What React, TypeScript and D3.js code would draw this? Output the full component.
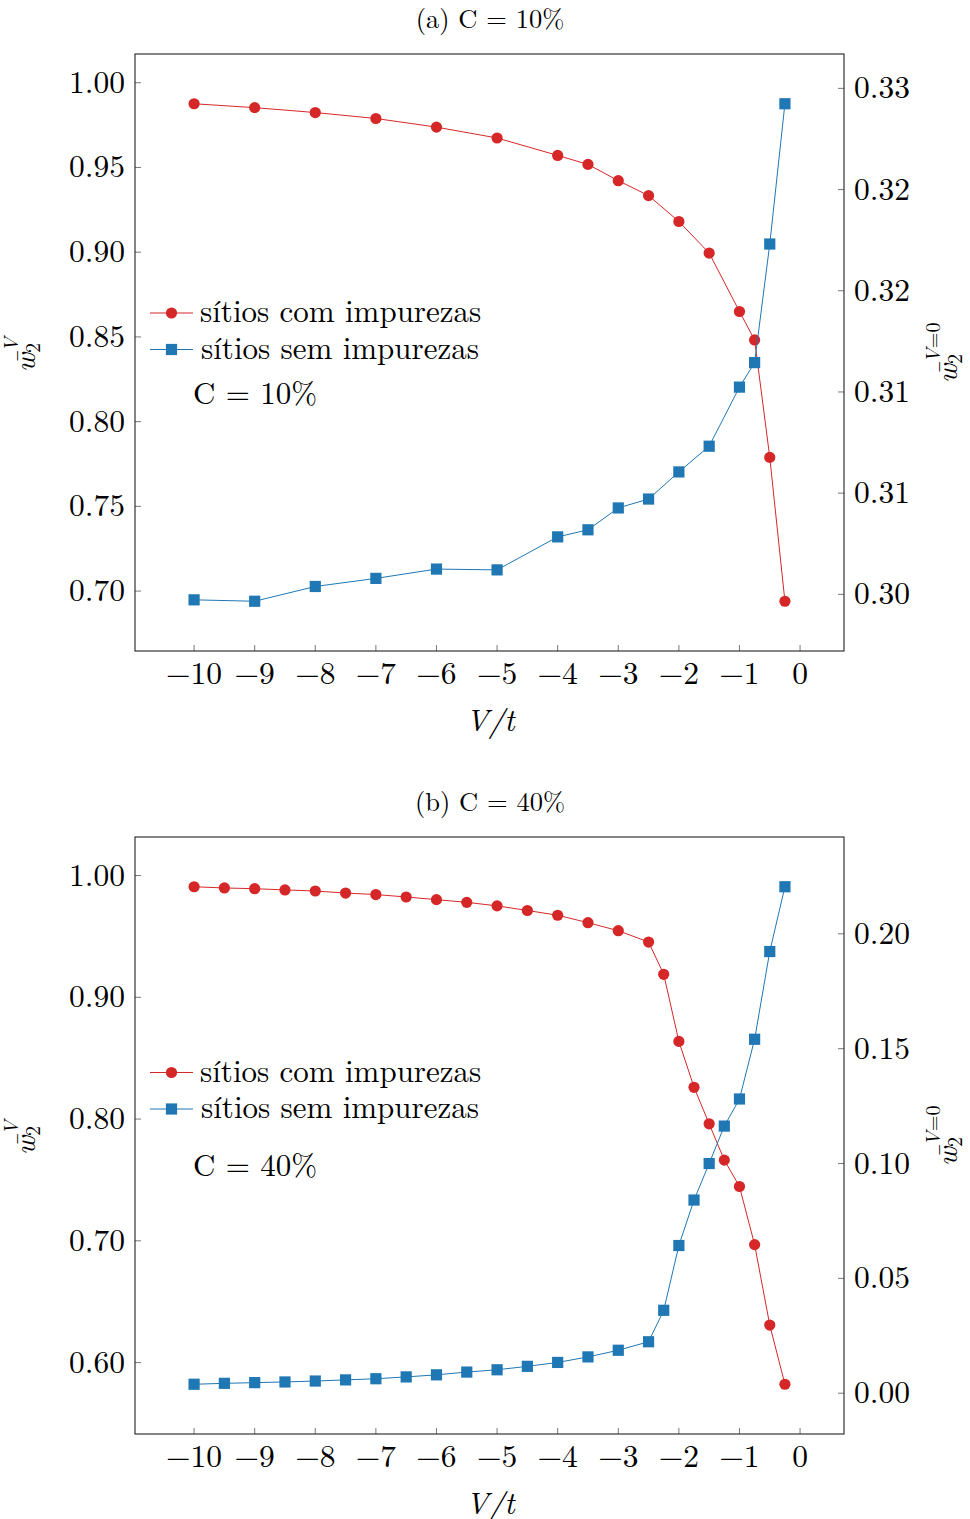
import React from 'react';
import * as d3 from 'd3';

// panel (a): C = 10%
const xA = [-10, -9, -8, -7, -6, -5, -4, -3.5, -3, -2.5, -2, -1.5, -1, -0.75, -0.5, -0.25];
const comA = [0.9876, 0.9853, 0.9824, 0.9789, 0.9738, 0.9674, 0.9571, 0.9518, 0.9422, 0.9334, 0.9181, 0.8995, 0.865, 0.8482, 0.7789, 0.694];
const semA = [0.29973, 0.29966, 0.30039, 0.30079, 0.30125, 0.30121, 0.30284, 0.30319, 0.30427, 0.30471, 0.30605, 0.30732, 0.31024, 0.31145, 0.31731, 0.32424];

// panel (b): C = 40%
const xB = [-10, -9.5, -9, -8.5, -8, -7.5, -7, -6.5, -6, -5.5, -5, -4.5, -4, -3.5, -3, -2.5, -2.25, -2, -1.75, -1.5, -1.25, -1, -0.75, -0.5, -0.25];
const comB = [0.9908, 0.9898, 0.9892, 0.9882, 0.9873, 0.9856, 0.9844, 0.9824, 0.9802, 0.978, 0.9751, 0.9713, 0.9674, 0.9613, 0.9547, 0.9454, 0.9189, 0.8638, 0.8261, 0.7961, 0.7663, 0.7446, 0.6969, 0.6308, 0.5822];
const semB = [0.0039, 0.0043, 0.0046, 0.0049, 0.0053, 0.0058, 0.0063, 0.0071, 0.008, 0.0092, 0.0102, 0.0117, 0.0134, 0.0158, 0.0187, 0.0224, 0.0361, 0.0643, 0.0841, 0.1, 0.1163, 0.1281, 0.1541, 0.1923, 0.2205];

const xTicks = [-10, -9, -8, -7, -6, -5, -4, -3, -2, -1, 0];
const leftTicksA = [0.7, 0.75, 0.8, 0.85, 0.9, 0.95, 1.0];
const rightTicksA = [0.3, 0.305, 0.31, 0.315, 0.32, 0.325];
const rightLabelsA = ['0.30', '0.31', '0.31', '0.32', '0.32', '0.33'];
const leftTicksB = [0.6, 0.7, 0.8, 0.9, 1.0];
const rightTicksB = [0, 0.05, 0.1, 0.15, 0.2];
const rightLabelsB = ['0.00', '0.05', '0.10', '0.15', '0.20'];

const RED = '#d62728';
const BLUE = '#1f77b4';
const FONT = '"Latin Modern Roman", "Liberation Serif", "DejaVu Serif", serif';

// pgfplots-like enlarged limits
function enlarge(vals: number[]): [number, number] {
  const [lo, hi] = d3.extent(vals) as [number, number];
  const pad = (hi - lo) * 0.1;
  return [lo - pad, hi + pad];
}

const fmtMinus = (v: number) => (v < 0 ? '\u2212' + Math.abs(v) : String(v));

type PanelProps = {
  top: number;
  title: string;
  conc: string;
  xs: number[];
  com: number[];
  sem: number[];
  leftTicks: number[];
  rightTicks: number[];
  rightLabels: string[];
  legY: number;
  concY: number;
  labY: number;
};

function Panel(p: PanelProps) {
  const { top, title, conc, xs, com, sem, leftTicks, rightTicks, rightLabels, legY, concY, labY } = p;
  const left = 135, right = 844, y0 = top, y1 = top + 597;
  const x = d3.scaleLinear().domain(enlarge(xs)).range([left, right]);
  const yL = d3.scaleLinear().domain(enlarge(com)).range([y1, y0]);
  const yR = d3.scaleLinear().domain(enlarge(sem)).range([y1, y0]);

  const lineL = d3.line<number>().x((_, i) => x(xs[i])).y(d => yL(d));
  const lineR = d3.line<number>().x((_, i) => x(xs[i])).y(d => yR(d));

  const fs = 31.5;

  return (
    <g fontFamily={FONT}>
      <text x={490} y={y0 - 26} textAnchor="middle" fontSize={26.5}>{title}</text>

      {/* ticks */}
      {xTicks.map(t => (
        <g key={'x' + t}>
          <line x1={x(t)} x2={x(t)} y1={y1} y2={y1 - 6} stroke="#555" strokeWidth={0.8} />
          <text x={x(t)} y={y1 + 33} textAnchor="middle" fontSize={fs}>{fmtMinus(t)}</text>
        </g>
      ))}
      {leftTicks.map(t => (
        <g key={'l' + t}>
          <line x1={left} x2={left + 6} y1={yL(t)} y2={yL(t)} stroke="#555" strokeWidth={0.8} />
          <text x={left - 10} y={yL(t) + 10} textAnchor="end" fontSize={fs}>{t.toFixed(2)}</text>
        </g>
      ))}
      {rightTicks.map((t, i) => (
        <g key={'r' + t}>
          <line x1={right} x2={right - 6} y1={yR(t)} y2={yR(t)} stroke="#555" strokeWidth={0.8} />
          <text x={right + 10} y={yR(t) + 10} textAnchor="start" fontSize={fs}>{rightLabels[i]}</text>
        </g>
      ))}

      <rect x={left} y={y0} width={right - left} height={y1 - y0} fill="none" stroke="#222" strokeWidth={1.1} />

      {/* series */}
      <path d={lineL(com) ?? ''} fill="none" stroke={RED} strokeWidth={1} />
      {com.map((d, i) => <circle key={'c' + i} cx={x(xs[i])} cy={yL(d)} r={5.6} fill={RED} />)}
      <path d={lineR(sem) ?? ''} fill="none" stroke={BLUE} strokeWidth={1} />
      {sem.map((d, i) => <rect key={'s' + i} x={x(xs[i]) - 5.6} y={yR(d) - 5.6} width={11.2} height={11.2} fill={BLUE} />)}

      {/* legend */}
      <line x1={150} x2={193} y1={legY} y2={legY} stroke={RED} strokeWidth={1} />
      <circle cx={171.5} cy={legY} r={5.6} fill={RED} />
      <text x={200} y={legY + 9} fontSize={31}>sítios com impurezas</text>
      <line x1={150} x2={193} y1={legY + 36.5} y2={legY + 36.5} stroke={BLUE} strokeWidth={1} />
      <rect x={165.9} y={legY + 30.9} width={11.2} height={11.2} fill={BLUE} />
      <text x={201} y={legY + 45.5} fontSize={31}>sítios sem impurezas</text>
      <text x={193} y={concY} fontSize={31}>{conc}</text>

      {/* axis labels */}
      <text x={490} y={y1 + 80} textAnchor="middle" fontSize={31} fontStyle="italic">V/t</text>
      <g transform={`translate(35, ${labY + 20}) rotate(-90)`}>
        <text x={0} y={0} fontSize={29} fontStyle="italic">w̄</text>
        <text x={20} y={-17} fontSize={20} fontStyle="italic">V</text>
        <text x={19} y={5} fontSize={20}>2</text>
      </g>
      <g transform={`translate(957, ${labY + 31}) rotate(-90)`}>
        <text x={0} y={0} fontSize={29} fontStyle="italic">w̄</text>
        <text x={20} y={-17} fontSize={20}><tspan fontStyle="italic">V</tspan>=0</text>
        <text x={19} y={5} fontSize={20}>2</text>
      </g>
    </g>
  );
}

export default function App() {
  return (
    <div style={{ position: 'absolute', left: 0, top: 0 }}>
      <svg width={970} height={1519} viewBox="0 0 970 1519" style={{ display: 'block', background: '#fff' }}>
        <Panel top={54} title="(a) C = 10%" conc="C = 10%" xs={xA} com={comA} sem={semA}
          leftTicks={leftTicksA} rightTicks={rightTicksA} rightLabels={rightLabelsA}
          legY={313} concY={404} labY={352} />
        <Panel top={837} title="(b) C = 40%" conc="C = 40%" xs={xB} com={comB} sem={semB}
          leftTicks={leftTicksB} rightTicks={rightTicksB} rightLabels={rightLabelsB}
          legY={1072.5} concY={1176} labY={1135} />
      </svg>
    </div>
  );
}
